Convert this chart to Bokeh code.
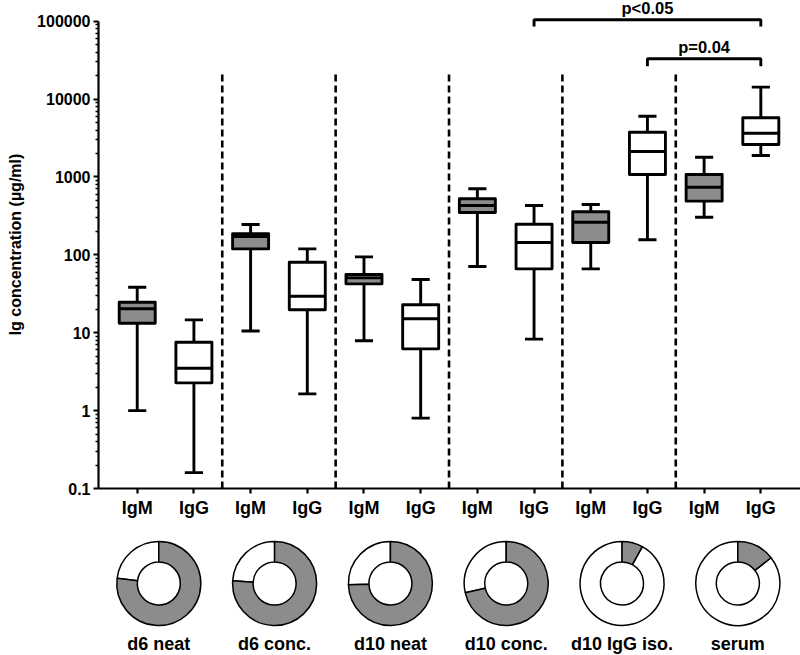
import math
from bokeh.plotting import figure
from bokeh.layouts import column
from bokeh.models import Range1d, FixedTicker, CustomJSTickFormatter, ColumnDataSource
from bokeh.core.properties import value
from bokeh.embed import file_html
from bokeh.resources import INLINE

# ---------------- data ----------------
groups = ["d6 neat", "d6 conc.", "d10 neat", "d10 conc.", "d10 IgG iso.", "serum"]
isotypes = ["IgM", "IgG"]

igm_low = [1.0, 10.5, 7.9, 70.7, 66, 304]
igm_q1 = [13.2, 119, 42.4, 349, 144, 488]
igm_med = [20.3, 172, 50.6, 430, 262, 738]
igm_q3 = [24.6, 186, 55.8, 524, 357, 1074]
igm_high = [38.4, 245, 94, 703, 442, 1790]

igg_low = [0.16, 1.64, 0.8, 8.26, 156, 1883]
igg_q1 = [2.27, 19.7, 6.2, 66, 1074, 2606]
igg_med = [3.5, 29.4, 15.1, 144, 2120, 3640]
igg_q3 = [7.55, 80.4, 22.8, 247, 3750, 5740]
igg_high = [14.6, 119, 48.2, 430, 6010, 14190]

# IgM share of total Ig (grey part of each ring)
igm_share = [0.77, 0.76, 0.745, 0.715, 0.08, 0.145]

y_ticks = [0.1, 1, 10, 100, 1000, 10000, 100000]
y_tick_labels = ["0.1", "1", "10", "100", "1000", "10000", "100000"]

# significance brackets: label, from-category index, to-category index
comp_labels = ["p<0.05", "p=0.04"]
comp_from = [7, 9]
comp_to = [11, 11]

# ---------------- style ----------------
FONT = "Liberation Sans"
GREY = "#8c8c8c"
BOX_W = 0.635
CAP_W = 0.32
LW = 2.9
bracket_y = [1.04e5, 3.28e4]
bracket_hook = [8.5e4, 2.64e4]
bracket_text_y = [1.48e5, 4.63e4]
sep_top = 2.21e4

# category positions (IgM, IgG alternate)
cat_x = list(range(len(groups) * 2))
cat_labels = [isotypes[i % 2] for i in cat_x]

p = figure(width=800, height=525, x_range=Range1d(-0.683, 11.70),
           y_range=Range1d(0.1, 10 ** 5.2645), y_axis_type="log",
           output_backend="svg", toolbar_location=None,
           min_border_left=98, min_border_right=0, min_border_top=0, min_border_bottom=37)
p.xgrid.visible = False
p.ygrid.visible = False
p.outline_line_color = None
p.background_fill_color = "white"

# separators between groups
sep_x = [2 * k + 1.5 for k in range(len(groups) - 1)]
p.segment(x0=sep_x, y0=[0.1] * len(sep_x), x1=sep_x, y1=[sep_top] * len(sep_x),
          line_color="black", line_width=2.6, line_dash="7 4")


def draw_boxes(xs, low, q1, med, q3, high, fill):
    src = ColumnDataSource(dict(x=xs, low=low, q1=q1, med=med, q3=q3, high=high,
                                l=[x - CAP_W / 2 for x in xs], r=[x + CAP_W / 2 for x in xs],
                                bl=[x - BOX_W / 2 for x in xs], br=[x + BOX_W / 2 for x in xs]))
    p.segment(x0="x", y0="q3", x1="x", y1="high", source=src, line_color="black", line_width=LW)
    p.segment(x0="x", y0="q1", x1="x", y1="low", source=src, line_color="black", line_width=LW)
    p.segment(x0="l", y0="high", x1="r", y1="high", source=src, line_color="black", line_width=LW)
    p.segment(x0="l", y0="low", x1="r", y1="low", source=src, line_color="black", line_width=LW)
    p.vbar(x="x", width=BOX_W, top="q3", bottom="q1", source=src, fill_color=fill,
           line_color="black", line_width=LW, line_join="round")
    p.segment(x0="bl", y0="med", x1="br", y1="med", source=src, line_color="black", line_width=LW)


igm_x = [2 * k for k in range(len(groups))]
igg_x = [2 * k + 1 for k in range(len(groups))]
draw_boxes(igm_x, igm_low, igm_q1, igm_med, igm_q3, igm_high, GREY)
draw_boxes(igg_x, igg_low, igg_q1, igg_med, igg_q3, igg_high, "white")

# significance brackets
for lbl, a, b, yb, yh, yt in zip(comp_labels, comp_from, comp_to, bracket_y, bracket_hook, bracket_text_y):
    p.line(x=[a, a, b, b], y=[yh, yb, yb, yh], line_color="black", line_width=LW)
    p.text(x=[(a + b) / 2], y=[yt], text=[lbl], text_align="center", text_baseline="middle",
           text_font=value(FONT), text_font_style="bold", text_font_size="16.5px", text_color="black")

# x axis
xa = p.xaxis[0]
xa.ticker = FixedTicker(ticks=cat_x)
xa.major_label_overrides = {i: lbl for i, lbl in zip(cat_x, cat_labels)}
xa.axis_line_width = 2.2
xa.major_tick_line_width = 2.2
xa.major_tick_out = 5
xa.major_tick_in = 0
xa.minor_tick_line_color = None
xa.major_label_text_font = FONT
xa.major_label_text_font_style = "bold"
xa.major_label_text_font_size = "18px"
xa.major_label_text_color = "black"
xa.major_label_standoff = 4

# y axis
minor = [m * t for t in y_ticks[:-1] for m in range(2, 10)]
ya = p.yaxis[0]
ya.ticker = FixedTicker(ticks=y_ticks, minor_ticks=minor)
ya.formatter = CustomJSTickFormatter(args=dict(tvals=y_ticks, tlabels=y_tick_labels), code="""
    for (let i = 0; i < tvals.length; i++) {
        if (Math.abs(Math.log10(tick) - Math.log10(tvals[i])) < 1e-6) return tlabels[i];
    }
    return "";
""")
ya.bounds = (0.1, 100000)
ya.axis_line_width = 2.2
ya.major_tick_line_width = 2.2
ya.major_tick_out = 5
ya.major_tick_in = 0
ya.minor_tick_line_width = 1.5
ya.minor_tick_out = 3
ya.minor_tick_in = 0
ya.major_label_text_font = FONT
ya.major_label_text_font_style = "bold"
ya.major_label_text_font_size = "16px"
ya.major_label_text_color = "black"
ya.major_label_standoff = 3
ya.axis_label = "Ig concentration (µg/ml)"
ya.axis_label_text_font = FONT
ya.axis_label_text_font_style = "bold"
ya.axis_label_text_font_size = "16px"
ya.axis_label_text_color = "black"
ya.axis_label_standoff = 10

# ---------------- donut row ----------------
q = figure(width=800, height=130, x_range=Range1d(-0.5207, 5.541), y_range=Range1d(0, 130),
           output_backend="svg", toolbar_location=None,
           min_border_left=98, min_border_right=0, min_border_top=0, min_border_bottom=0,
           x_axis_location=None, y_axis_location=None)
q.xgrid.visible = False
q.ygrid.visible = False
q.outline_line_color = None

donut_x = list(range(len(groups)))
DONUT_Y = 72
LABEL_Y = 11.5
top_angle = math.pi / 2
gstart = [top_angle - s * 2 * math.pi for s in igm_share]
wend = [top_angle + (1 - s) * 2 * math.pi for s in igm_share]
q.annular_wedge(x=donut_x, y=[DONUT_Y] * len(groups), inner_radius=21.5, outer_radius=42,
                inner_radius_units="screen", outer_radius_units="screen",
                start_angle=[top_angle] * len(groups), end_angle=wend,
                fill_color="white", line_color="black", line_width=1.5)
q.annular_wedge(x=donut_x, y=[DONUT_Y] * len(groups), inner_radius=21.5, outer_radius=42,
                inner_radius_units="screen", outer_radius_units="screen",
                start_angle=gstart, end_angle=[top_angle] * len(groups),
                fill_color=GREY, line_color="black", line_width=1.5)
q.text(x=donut_x, y=[LABEL_Y] * len(groups), text=groups, text_align="center",
       text_baseline="middle", text_font=value(FONT), text_font_style="bold",
       text_font_size="18px", text_color="black")

layout = column(p, q)
open("out.html", "w").write(file_html(layout, INLINE))
